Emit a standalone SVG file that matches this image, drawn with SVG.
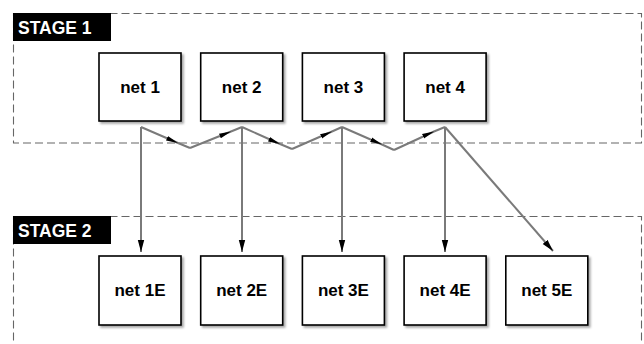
<svg xmlns="http://www.w3.org/2000/svg" width="644" height="344" viewBox="0 0 644 344">
  <defs>
    <filter id="shadow" x="-10%" y="-10%" width="130%" height="130%">
      <feDropShadow dx="2" dy="2" stdDeviation="1.2" flood-color="#000" flood-opacity="0.35"/>
    </filter>
    <marker id="mid" viewBox="0 0 12 6" refX="12" refY="3" markerWidth="12" markerHeight="6" markerUnits="userSpaceOnUse" orient="auto">
      <path d="M0,0.6 L12,3 L0,5.4 Z" fill="#000"/>
    </marker>
    <marker id="end" viewBox="0 0 12 8" refX="12" refY="4" markerWidth="12" markerHeight="8" markerUnits="userSpaceOnUse" orient="auto">
      <path d="M0,0.8 L12,4 L0,7.2 Z" fill="#000"/>
    </marker>
  </defs>
  <style>
    .stage { fill: none; stroke: #666; stroke-width: 1.1; stroke-dasharray: 8 4; }
    .tag { fill: #000; }
    .tagtext { fill: #fff; font-family: "Liberation Sans", Arial, sans-serif; font-weight: bold; font-size: 17.5px; }
    .box { fill: #fff; stroke: #000; stroke-width: 1.6; filter: url(#shadow); }
    .label { font-family: "Liberation Sans", Arial, sans-serif; font-weight: bold; font-size: 17px; text-anchor: middle; fill: #000; }
    .wire { fill: none; stroke: #7a7a7a; stroke-width: 2; }
    .zig { marker-mid: url(#mid); }
    .drop { marker-end: url(#end); }
  </style>

  <!-- stage frames -->
  <g id="stage1">
    <rect class="stage" x="13.5" y="13.5" width="628" height="129.5"/>
    <rect class="tag" x="13" y="13" width="98" height="28"/>
    <text class="tagtext" x="18" y="33.5">STAGE 1</text>
  </g>
  <g id="stage2">
    <rect class="stage" x="13.5" y="216.5" width="628" height="160"/>
    <rect class="tag" x="13" y="216" width="98" height="28"/>
    <text class="tagtext" x="18" y="236.5">STAGE 2</text>
  </g>

  <!-- connectors -->
  <g id="connectors">
    <path class="wire zig" d="M141,127 L178,143 L190,148"/>
    <path class="wire zig" d="M190,148 L231,131.5 L242,127"/>
    <path class="wire zig" d="M242,127 L280,144 L292,149"/>
    <path class="wire zig" d="M292,149 L332,131.5 L342,127"/>
    <path class="wire zig" d="M342,127 L382,144.5 L394,150"/>
    <path class="wire zig" d="M394,150 L434,131.5 L445,127"/>
    <path class="wire drop" d="M141,127 L141,252"/>
    <path class="wire drop" d="M242,127 L242,252"/>
    <path class="wire drop" d="M342,127 L342,252"/>
    <path class="wire drop" d="M445,127 L445,252"/>
    <path class="wire drop" d="M445,127 L553,251"/>
  </g>

  <!-- stage 1 nodes -->
  <g id="net1">
    <rect class="box" x="99" y="53" width="82" height="68"/>
    <text class="label" x="140" y="93">net 1</text>
  </g>
  <g id="net2">
    <rect class="box" x="200.7" y="53" width="82" height="68"/>
    <text class="label" x="241.7" y="93">net 2</text>
  </g>
  <g id="net3">
    <rect class="box" x="302.4" y="53" width="82" height="68"/>
    <text class="label" x="343.4" y="93">net 3</text>
  </g>
  <g id="net4">
    <rect class="box" x="404.1" y="53" width="82" height="68"/>
    <text class="label" x="445.1" y="93">net 4</text>
  </g>

  <!-- stage 2 nodes -->
  <g id="net1E">
    <rect class="box" x="99" y="256" width="82" height="69"/>
    <text class="label" x="140" y="296">net 1E</text>
  </g>
  <g id="net2E">
    <rect class="box" x="200.7" y="256" width="82" height="69"/>
    <text class="label" x="241.7" y="296">net 2E</text>
  </g>
  <g id="net3E">
    <rect class="box" x="302.4" y="256" width="82" height="69"/>
    <text class="label" x="343.4" y="296">net 3E</text>
  </g>
  <g id="net4E">
    <rect class="box" x="404.1" y="256" width="82" height="69"/>
    <text class="label" x="445.1" y="296">net 4E</text>
  </g>
  <g id="net5E">
    <rect class="box" x="505.8" y="256" width="82" height="69"/>
    <text class="label" x="546.8" y="296">net 5E</text>
  </g>
</svg>
